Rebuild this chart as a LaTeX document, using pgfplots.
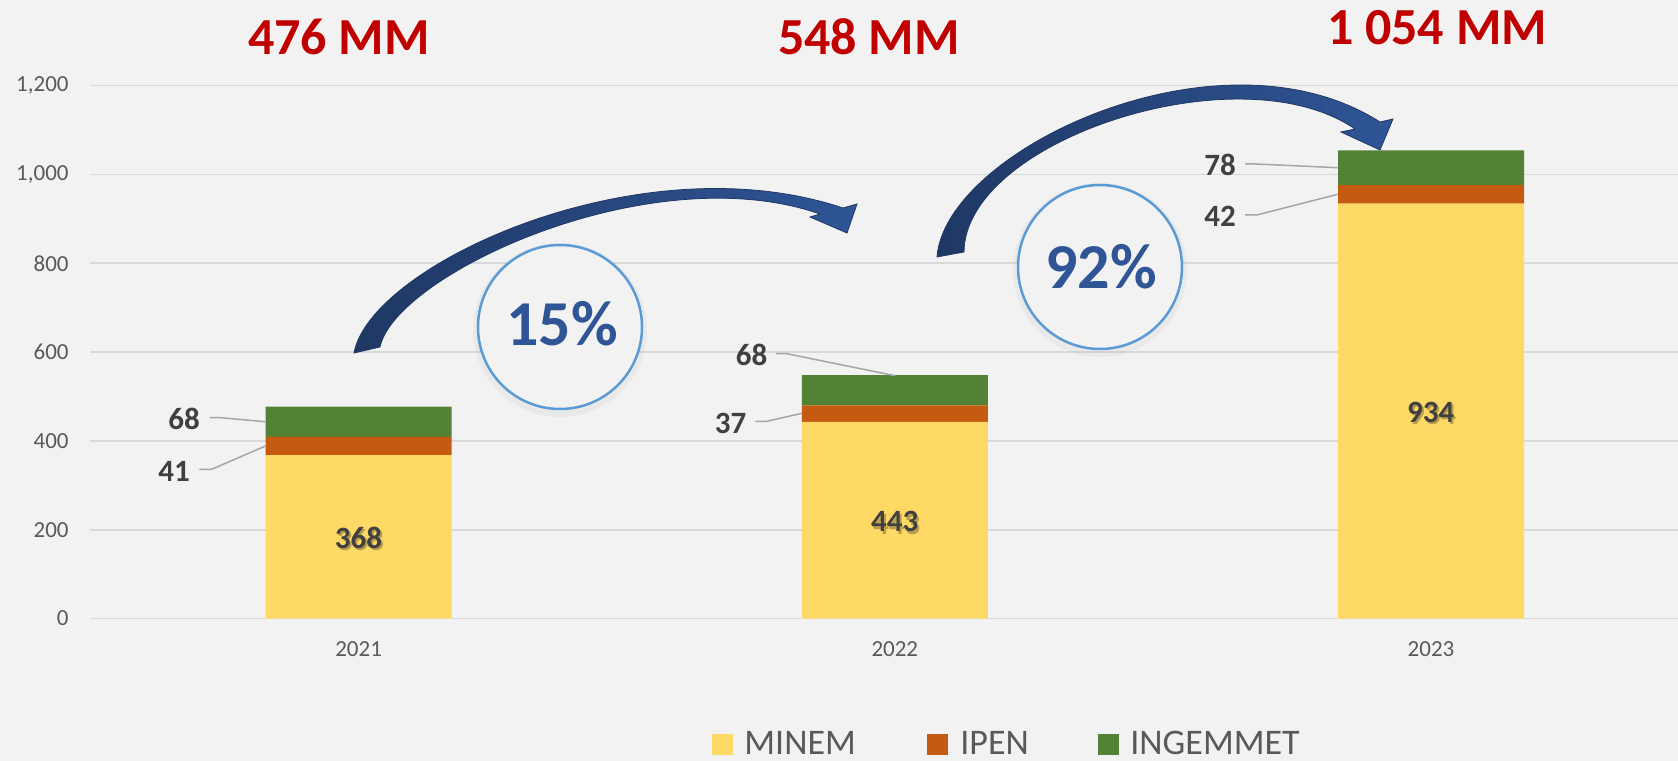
\documentclass[border=0pt]{standalone}
\usepackage{fontspec}
\setmainfont{Carlito}
\usepackage{pgfplots}
\pgfplotsset{compat=1.18}
\definecolor{bg}{HTML}{F2F2F2}
\definecolor{gridc}{HTML}{D9D9D9}
\definecolor{tickc}{HTML}{595959}
\definecolor{minem}{HTML}{FFD966}
\definecolor{ipen}{HTML}{C55A11}
\definecolor{ingemmet}{HTML}{548235}
\definecolor{titlered}{HTML}{C00000}
\definecolor{pctblue}{HTML}{2F5597}
\definecolor{circblue}{HTML}{5B9BD5}
\definecolor{arrowdark}{HTML}{1F3864}
\definecolor{arrowlight}{HTML}{2F5597}
\definecolor{lblc}{HTML}{404040}
\definecolor{leader}{HTML}{A6A6A6}
\begin{document}
\begin{tikzpicture}
\useasboundingbox (0,0) rectangle (839pt,380.5pt);
\fill[bg] (0,0) rectangle (839pt,380.5pt);
\begin{axis}[
  at={(45.25pt,71.2pt)}, anchor=south west,
  scale only axis, width=793.75pt, height=266.5pt,
  xmin=-0.5, xmax=2.4606, ymin=0, ymax=1200,
  ybar stacked, bar width=93pt,
  axis line style={draw=none},
  major tick length=0pt,
  tick style={draw=none},
  ymajorgrids, grid style={gridc, line width=0.9pt},
  xtick={0,1,2}, xticklabels={2021,2022,2023},
  ytick={0,200,...,1200},
  tick label style={font=\fontsize{11.5pt}{13pt}\selectfont, text=tickc, inner sep=0pt},
  xticklabel style={anchor=north, yshift=-11.5pt},
  yticklabel style={anchor=east, xshift=-10.75pt, /pgf/number format/1000 sep={,}, /pgf/number format/assume math mode=true},
  clip=false,
]
\addplot[fill=minem, draw=none] coordinates {(0,368) (1,443) (2,934)};
\addplot[fill=ipen, draw=none] coordinates {(0,41) (1,37) (2,42)};
\addplot[fill=ingemmet, draw=none] coordinates {(0,68) (1,68) (2,78)};
\end{axis}
\begin{scope}[shift={(0pt,380.5pt)}, x=0.5pt, y=-0.5pt]
% leader lines
\draw[leader, line width=0.75pt] (209.7,417.7) -- (221,417.7) -- (265.5,421.8);
\draw[leader, line width=0.75pt] (199.4,469.3) -- (211.6,469.3) -- (265.5,446);
\draw[leader, line width=0.75pt] (776,353.7) -- (786.7,353.7) -- (895,375.7);
\draw[leader, line width=0.75pt] (755.3,421.3) -- (766.7,421.3) -- (802,413.3);
\draw[leader, line width=0.75pt] (1245,164) -- (1256,164) -- (1337.7,167.7);
\draw[leader, line width=0.75pt] (1245,215) -- (1256.7,215) -- (1337.7,194.3);
% data labels
\begin{scope}[every node/.style={inner sep=0pt, font=\fontsize{15.5pt}{18pt}\selectfont\bfseries, text=lblc}]
\node at (184,419) {68};
\node at (174,471) {41};
\node at (751.5,355) {68};
\node at (730.5,423) {37};
\node at (1220,165) {78};
\node at (1220,216.3) {42};
\node[text=black, opacity=0.28] at (360.5,540.3) {368};
\node at (358.5,538.3) {368};
\node[text=black, opacity=0.28] at (896.7,524) {443};
\node at (894.7,521.7) {443};
\node[text=black, opacity=0.28] at (1432.8,414.3) {934};
\node at (1430.8,412) {934};
\end{scope}
% circles
\draw[black, opacity=0.035, line width=4pt] (560,330) circle[radius=83];
\draw[black, opacity=0.035, line width=4pt] (1100,270) circle[radius=83];
\filldraw[fill=bg, draw=circblue, line width=1.25pt] (560,327) circle[radius=82];
\filldraw[fill=bg, draw=circblue, line width=1.25pt] (1100,267) circle[radius=82];
\node[inner sep=0pt, font=\fontsize{32pt}{36pt}\selectfont\bfseries, text=pctblue] at (562,324) {15\%};
\node[inner sep=0pt, font=\fontsize{32pt}{36pt}\selectfont\bfseries, text=pctblue] at (1101,266.5) {92\%};
% arrows
\shade[left color=arrowdark, right color=arrowlight, draw=arrowdark, line width=0.4pt]
  (354,353) .. controls (370,265) and (640,140) .. (843,208) -- (857,204) -- (847,233) -- (810,217) -- (820,214)
  .. controls (650,155) and (395,275) .. (380,347) -- cycle;
\shade[left color=arrowdark, right color=arrowlight, draw=arrowdark, line width=0.4pt]
  (937,257) .. controls (945,150) and (1220,20) .. (1380,122) -- (1393,119) -- (1380,150) -- (1341,132) -- (1355,129)
  .. controls (1240,50) and (965,140) .. (964,252) -- cycle;
% titles
\begin{scope}[every node/.style={inner sep=0pt, font=\fontsize{26pt}{30pt}\selectfont\bfseries, text=titlered}]
\node at (339,37) {476 MM};
\node at (869,37) {548 MM};
\node at (1437,27.5) {1 054 MM};
\end{scope}
% legend
\fill[minem] (712,734) rectangle (733,755);
\fill[ipen] (927,734) rectangle (948,755);
\fill[ingemmet] (1098,734) rectangle (1119,755);
\begin{scope}[every node/.style={inner sep=0pt, anchor=base west, font=\fontsize{18pt}{21pt}\selectfont, text=tickc}]
\node at (744,755) {MINEM};
\node at (960,755) {IPEN};
\node at (1130,755) {INGEMMET};
\end{scope}
\end{scope}
\end{tikzpicture}
\end{document}
